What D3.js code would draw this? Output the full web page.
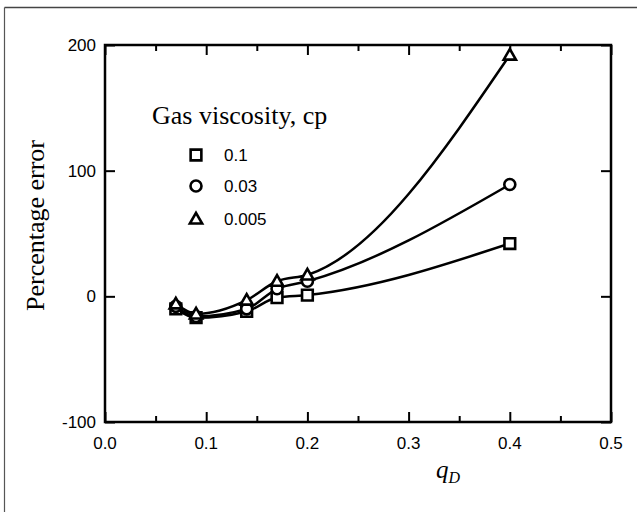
<!DOCTYPE html>
<html>
<head>
<meta charset="utf-8">
<script src="https://cdn.jsdelivr.net/npm/d3@7"></script>
<style>
html,body{margin:0;padding:0;background:#fff;}
svg{display:block;}
</style>
</head>
<body>
<svg id="chart" width="637" height="512"></svg>
<script>
// ---- data ----
const qD = [0.07, 0.09, 0.14, 0.17, 0.2, 0.4];
const err_01 = [-10, -17, -12, -1, 1, 42];
const err_003 = [-8, -16, -10, 6, 12, 89];
const err_0005 = [-6, -14, -3, 12, 17, 192];
const seriesNames = ["0.1", "0.03", "0.005"];
const seriesSymbols = ["square", "circle", "triangle"];
const xTicks = [0.0, 0.1, 0.2, 0.3, 0.4, 0.5];
const xTickLabels = ["0.0", "0.1", "0.2", "0.3", "0.4", "0.5"];
const xMinorTicks = [0.05, 0.15, 0.25, 0.35, 0.45];
const yTicks = [-100, 0, 100, 200];
const yTickLabels = ["-100", "0", "100", "200"];
const legendTitle = "Gas viscosity, cp";
const yTitle = "Percentage error";

const series = [err_01, err_003, err_0005].map((vals, i) => ({
  name: seriesNames[i], symbol: seriesSymbols[i],
  points: qD.map((q, j) => ({x: q, y: vals[j]}))
}));

const svg = d3.select("#chart");
const L = 105, R = 611, T = 45, B = 422;
const x = d3.scaleLinear().domain([0, 0.5]).range([L, R]);
const y = d3.scaleLinear().domain([-100, 200]).range([B, T]);

// outer border (top and left edges visible)
svg.append("line").attr("x1", 4.5).attr("x2", 637).attr("y1", 7.5).attr("y2", 7.5)
  .attr("stroke", "#444").attr("stroke-width", 1.6);
svg.append("line").attr("x1", 4.5).attr("x2", 4.5).attr("y1", 7.5).attr("y2", 512)
  .attr("stroke", "#555").attr("stroke-width", 1.2);

const sansFont = "'Liberation Sans', Arial, Helvetica, sans-serif";
const serifFont = "'Liberation Serif', 'Times New Roman', serif";

// axes via d3 axis generators (inward ticks)
const bottomAxis = d3.axisBottom(x).tickValues(xTicks).tickSizeInner(-10).tickSizeOuter(0).tickFormat("");
const bottomMinor = d3.axisBottom(x).tickValues(xMinorTicks).tickSizeInner(-6).tickSizeOuter(0).tickFormat("");
const topAxis = d3.axisTop(x).tickValues(xTicks).tickSizeInner(-10).tickSizeOuter(0).tickFormat("");
const topMinor = d3.axisTop(x).tickValues(xMinorTicks).tickSizeInner(-6).tickSizeOuter(0).tickFormat("");
const leftAxis = d3.axisLeft(y).tickValues(yTicks).tickSizeInner(-10).tickSizeOuter(0).tickFormat("");
const rightAxis = d3.axisRight(y).tickValues(yTicks).tickSizeInner(-10).tickSizeOuter(0).tickFormat("");

function styleAxis(g){
  g.selectAll("path.domain").remove();
  g.selectAll(".tick line").attr("stroke", "#000").attr("stroke-width", 2);
}
svg.append("g").attr("transform", `translate(0,${B})`).call(bottomAxis).call(styleAxis);
svg.append("g").attr("transform", `translate(0,${B})`).call(bottomMinor).call(styleAxis);
svg.append("g").attr("transform", `translate(0,${T})`).call(topAxis).call(styleAxis);
svg.append("g").attr("transform", `translate(0,${T})`).call(topMinor).call(styleAxis);
svg.append("g").attr("transform", `translate(${L},0)`).call(leftAxis).call(styleAxis);
svg.append("g").attr("transform", `translate(${R},0)`).call(rightAxis).call(styleAxis);

// frame
svg.append("rect").attr("x", L).attr("y", T).attr("width", R - L).attr("height", B - T)
  .attr("fill", "none").attr("stroke", "#000").attr("stroke-width", 2.5);

// tick labels
svg.append("g").selectAll("text").data(xTicks).join("text")
  .attr("x", d => x(d)).attr("y", B + 27)
  .attr("text-anchor", "middle")
  .attr("font-family", sansFont).attr("font-size", 17)
  .text((d, i) => xTickLabels[i]);
svg.append("g").selectAll("text").data(yTicks).join("text")
  .attr("x", L - 9).attr("y", d => y(d) + 6)
  .attr("text-anchor", "end")
  .attr("font-family", sansFont).attr("font-size", 17)
  .text((d, i) => yTickLabels[i]);

// axis titles
svg.append("text")
  .attr("transform", `translate(44,${(T + B) / 2 - 8}) rotate(-90)`)
  .attr("text-anchor", "middle")
  .attr("font-family", serifFont).attr("font-size", 26)
  .text(yTitle);
const xt = svg.append("text").attr("x", 436).attr("y", 478)
  .attr("font-family", serifFont).attr("font-style", "italic").attr("font-size", 25);
xt.append("tspan").text("q");
xt.append("tspan").attr("dy", 5).attr("font-size", 16).text("D");

// curves
const line = d3.line().x(d => x(d.x)).y(d => y(d.y)).curve(d3.curveMonotoneX);
svg.append("g").selectAll("path").data(series).join("path")
  .attr("d", d => line(d.points))
  .attr("fill", "none").attr("stroke", "#000").attr("stroke-width", 2.5);

// markers
const symType = {square: d3.symbolSquare, circle: d3.symbolCircle, triangle: d3.symbolTriangle};
const symSize = {square: 115, circle: 95, triangle: 65};
function drawSym(sel, name){
  sel.attr("d", d3.symbol().type(symType[name]).size(symSize[name])())
    .attr("fill", "#fff").attr("stroke", "#000").attr("stroke-width", 2.6)
    .attr("stroke-linejoin", "miter");
}
series.forEach(s => {
  svg.append("g").selectAll("path").data(s.points).join("path")
    .attr("transform", d => `translate(${x(d.x)},${y(d.y) + (s.symbol === "triangle" ? 1 : 0)})`)
    .each(function(){ drawSym(d3.select(this), s.symbol); });
});

// legend
svg.append("text").attr("x", 152).attr("y", 124)
  .attr("font-family", serifFont).attr("font-size", 26)
  .text(legendTitle);
const legY = [155, 186, 219];
series.forEach((s, i) => {
  svg.append("path").attr("transform", `translate(196,${legY[i] + (s.symbol === "triangle" ? 1 : 0)})`)
    .call(sel => drawSym(sel, s.symbol));
  svg.append("text").attr("x", 224).attr("y", legY[i] + 6)
    .attr("font-family", sansFont).attr("font-size", 17)
    .text(s.name);
});
</script>
</body>
</html>
